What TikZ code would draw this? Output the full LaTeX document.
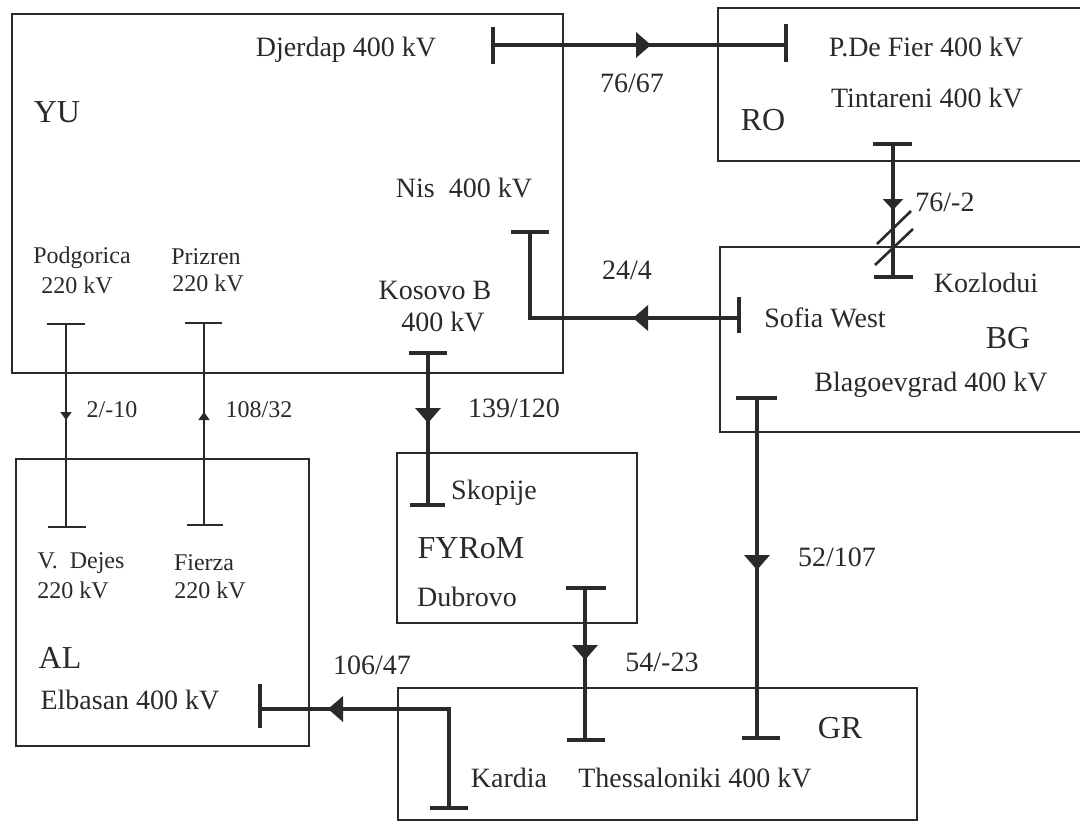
\documentclass[tikz,border=0pt]{standalone}
\usepackage{fontspec}
\setmainfont{Liberation Serif}
\usetikzlibrary{arrows.meta,decorations.markings,calc}
\definecolor{ink}{HTML}{2A2A2A}
\tikzset{
 box/.style={draw=ink, line width=1.8pt},
 hv/.style={draw=ink, line width=3.6pt},
 lv/.style={draw=ink, line width=1.8pt},
 busbar/.style={draw=ink, line width=4pt},
 lbl/.style={text=ink, inner sep=0pt, font=\fontsize{28}{30}\selectfont},
 sm/.style={text=ink, inner sep=0pt, font=\fontsize{24}{26}\selectfont},
 ctry/.style={text=ink, inner sep=0pt, font=\fontsize{32}{34}\selectfont},
 flowat/.style={postaction={decorate}, decoration={markings, mark=at position #1 with {\arrow{Triangle[length=15pt,width=25pt]}}}},
 smallflowat/.style={postaction={decorate}, decoration={markings, mark=at position #1 with {\arrow{Triangle[length=11pt,width=20pt]}}}},
 smflowat/.style={postaction={decorate}, decoration={markings, mark=at position #1 with {\arrow{Triangle[length=8pt,width=11pt]}}}},
}
\begin{document}
\begin{tikzpicture}[x=1pt,y=-1pt]
\useasboundingbox (0,0) rectangle (1080,825);
\fill[white] (0,0) rectangle (1080,825);
\begin{scope}
\clip (0,0) rectangle (1080,825);
% boxes
\draw[box] (12,14) rectangle (563,373);
\draw[box] (1090,8) -| (718,161) -- (1090,161);
\draw[box] (1090,247) -| (720,432) -- (1090,432);
\draw[box] (16,459) rectangle (309,746);
\draw[box] (397,453) rectangle (637,623);
\draw[box] (398,688) rectangle (917,820);

% bus coordinates
\coordinate (dj) at (493,45);
\coordinate (pdf) at (786,45);
\coordinate (tin) at (893,144);
\coordinate (koz) at (893,277);
\coordinate (nis) at (530,232);
\coordinate (nisc) at (530,318);
\coordinate (sw) at (739,318);
\coordinate (kos) at (428,353);
\coordinate (sko) at (428,505);
\coordinate (pod) at (66,324);
\coordinate (vd) at (66,527);
\coordinate (pri) at (204,323);
\coordinate (fie) at (204,525);
\coordinate (elb) at (260,709);
\coordinate (kac) at (449,709);
\coordinate (kar) at (449,808);
\coordinate (dub) at (585,588);
\coordinate (the1) at (585,740);
\coordinate (bla) at (757,398);
\coordinate (the2) at (757,738);

% bus bars
\draw[busbar] ($(dj)+(0,-18)$) -- ($(dj)+(0,19)$);
\draw[busbar] ($(pdf)+(0,-21)$) -- ($(pdf)+(0,17)$);
\draw[busbar] ($(tin)+(-20,0)$) -- ($(tin)+(19,0)$);
\draw[busbar] ($(koz)+(-19,0)$) -- ($(koz)+(20,0)$);
\draw[busbar] ($(nis)+(-19,0)$) -- ($(nis)+(19,0)$);
\draw[busbar] ($(sw)+(0,-21)$) -- ($(sw)+(0,15)$);
\draw[busbar] ($(kos)+(-19,0)$) -- ($(kos)+(19,0)$);
\draw[busbar] ($(sko)+(-18,0)$) -- ($(sko)+(17,0)$);
\draw[busbar] ($(elb)+(0,-25)$) -- ($(elb)+(0,19)$);
\draw[busbar] ($(kar)+(-19,0)$) -- ($(kar)+(19,0)$);
\draw[busbar] ($(dub)+(-19,0)$) -- ($(dub)+(21,0)$);
\draw[busbar] ($(the1)+(-18,0)$) -- ($(the1)+(20,0)$);
\draw[busbar] ($(bla)+(-21,0)$) -- ($(bla)+(20,0)$);
\draw[busbar] ($(the2)+(-15,0)$) -- ($(the2)+(23,0)$);
\draw[lv] ($(pod)+(-19,0)$) -- ($(pod)+(19,0)$);
\draw[lv] ($(vd)+(-18,0)$) -- ($(vd)+(20,0)$);
\draw[lv] ($(pri)+(-19,0)$) -- ($(pri)+(18,0)$);
\draw[lv] ($(fie)+(-17,0)$) -- ($(fie)+(19,0)$);

% lines
\draw[hv, flowat=158pt] (dj) -- (pdf);
\draw[hv, smallflowat=66pt] (tin) -- (koz);
\draw[draw=ink, line width=2.6pt] ($(tin)+(18,67)$) -- ($(tin)+(-16,100)$);
\draw[draw=ink, line width=2.6pt] ($(tin)+(20,85)$) -- ($(tin)+(-18,121)$);
\draw[hv, flowat=106pt] (sw) -- (nisc) -- (nis);
\draw[hv, flowat=70pt] (kos) -- (sko);
\draw[lv, smflowat=96pt] (pod) -- (vd);
\draw[lv, smflowat=113pt] (fie) -- (pri);
\draw[hv, flowat=220pt] (kar) -- (kac) -- (elb);
\draw[hv, flowat=72pt] (dub) -- (the1);
\draw[hv, flowat=172pt] (bla) -- (the2);
\end{scope}

% texts
\node[lbl] (tdj) at (346,50) {Djerdap 400 kV};
\node[lbl] (tpdf) at (926,47) {P.De Fier 400 kV};
\node[lbl] (ttin) at (927,98) {Tintareni 400 kV};
\node[ctry] (tro) at (763,120) {RO};
\node[lbl] (f1) at (632,83) {76/67};
\node[ctry] (tyu) at (57,112) {YU};
\node[lbl] (tnis) at (464,188) {Nis\ \ 400 kV};
\node[sm] (tpod) at (82,258) {Podgorica};
\node[sm] (tpod2) at (77,285) {220 kV};
\node[sm] (tpri) at (206,257) {Prizren};
\node[sm] (tpri2) at (208,283) {220 kV};
\node[lbl] (tkos) at (435,290) {Kosovo B};
\node[lbl] (tkos2) at (443,322) {400 kV};
\node[lbl] (f2) at (945,202) {76/-2};
\node[lbl] (f3) at (627,270) {24/4};
\node[lbl] (tkoz) at (986,283) {Kozlodui};
\node[lbl] (tsw) at (825,318) {Sofia West};
\node[ctry] (tbg) at (1008,338) {BG};
\node[lbl] (tbla) at (931,385) {Blagoevgrad 400 kV};
\node[sm] (f4) at (112,410) {2/-10};
\node[sm] (f5) at (259,410) {108/32};
\node[lbl] (f6) at (514,408) {139/120};
\node[lbl] (tsko) at (494,493) {Skopije};
\node[ctry] (tfy) at (471,548) {FYRoM};
\node[lbl] (tdub) at (467,597) {Dubrovo};
\node[lbl] (f7) at (837,557) {52/107};
\node[sm] (tvd) at (81,563) {V.\ \ Dejes};
\node[sm] (tvd2) at (73,590) {220 kV};
\node[sm] (tfie) at (204,563) {Fierza};
\node[sm] (tfie2) at (210,590) {220 kV};
\node[ctry] (tal) at (60,658) {AL};
\node[lbl] (f8) at (372,665) {106/47};
\node[lbl] (f9) at (662,662) {54/-23};
\node[lbl] (telb) at (130,700) {Elbasan 400 kV};
\node[ctry] (tgr) at (840,728) {GR};
\node[lbl] (tkar) at (509,778) {Kardia};
\node[lbl] (tthe) at (695,778) {Thessaloniki 400 kV};
\end{tikzpicture}
\end{document}
